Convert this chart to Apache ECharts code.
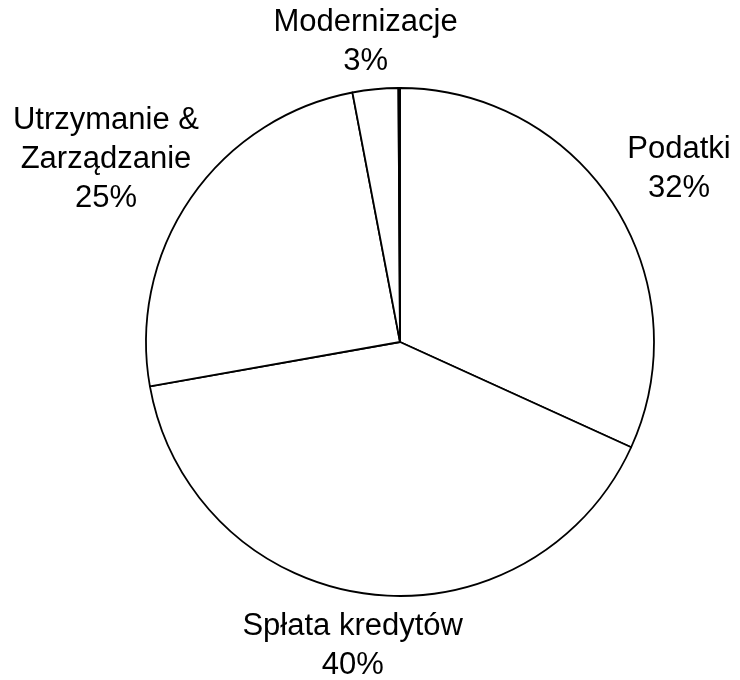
<!DOCTYPE html>
<html>
<head>
<meta charset="utf-8">
<script src="https://cdn.jsdelivr.net/npm/echarts@6/dist/echarts.min.js"></script>
<style>html,body{margin:0;padding:0;background:#fff}#main{width:740px;height:680px}</style>
</head>
<body>
<div id="main"></div>
<script>
// dane wykresu
var categories = ['Podatki', 'Spłata kredytów', 'Utrzymanie &\nZarządzanie', 'Modernizacje', ''];
var values = [31.8, 40.4, 24.8, 2.9, 0.1];

// odstęp etykiety od krawędzi koła (px)
var labelGap = [26, 13, 10, 8, 0];

var cx = 400, cy = 342, r = 254;
var total = values.reduce(function (s, v) { return s + v; }, 0);

// kąt środka każdego wycinka, zgodnie z ruchem wskazówek od godziny 12
var midAngles = [];
var acc = 0;
values.forEach(function (v) {
  midAngles.push((acc + v / 2) / total * 2 * Math.PI);
  acc += v;
});

var chart = echarts.init(document.getElementById('main'));

chart.setOption({
  animation: false,
  series: [{
    type: 'pie',
    center: [cx, cy],
    radius: r,
    startAngle: 90,
    avoidLabelOverlap: false,
    silent: true,
    data: categories.map(function (c, i) {
      return { name: c, value: values[i], label: { show: c !== '' } };
    }),
    itemStyle: { color: '#fff', borderColor: '#000', borderWidth: 1.8 },
    label: {
      position: 'outside',
      formatter: function (p) { return p.name + '\n' + Math.round(p.percent) + '%'; },
      fontFamily: 'Liberation Sans, Arial, sans-serif',
      fontSize: 31,
      lineHeight: 39,
      color: '#000'
    },
    labelLine: { show: false },
    // punkt zaczepienia na przedłużeniu środka wycinka, ramka etykiety
    // przesuwana płynnie w zależności od kąta (jak w Excelu)
    labelLayout: function (p) {
      var i = p.dataIndex;
      var a = midAngles[i];
      var sx = Math.sin(a), sy = -Math.cos(a);
      var w = p.labelRect.width, h = p.labelRect.height;
      var d = r + labelGap[i];
      return {
        x: cx + sx * d + w * sx / 2,
        y: cy + sy * d + h * sy / 2,
        align: 'center',
        verticalAlign: 'middle'
      };
    }
  }]
});
</script>
</body>
</html>
